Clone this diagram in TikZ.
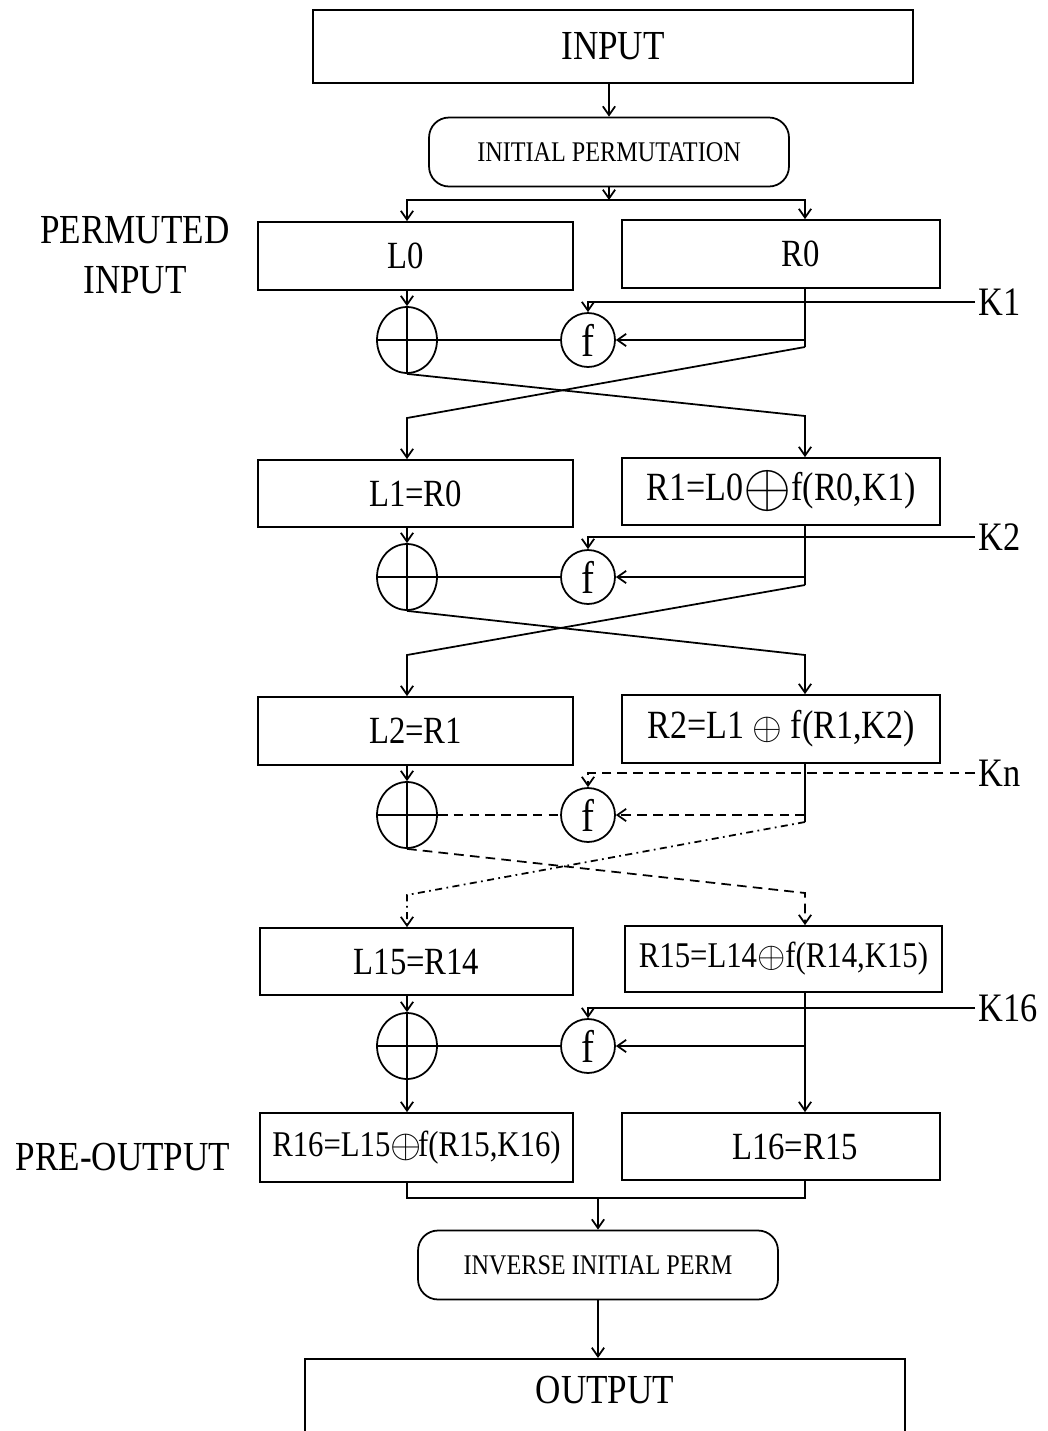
\documentclass[tikz,border=0pt]{standalone}
\usepackage{fontspec}
\setmainfont{Liberation Serif}[FakeStretch=0.85]
\usetikzlibrary{arrows.meta,shapes.geometric}

\newcommand{\xo}[1]{$\vcenter{\hbox{\scalebox{#1}{$\oplus$}}}$}

\tikzset{
  wire/.style={line width=1pt},
  arr/.style={wire, -{Straight Barb[length=5pt,width=7pt]}},
  kdash/.style={dash pattern=on 5.5pt off 3.5pt},
  kdot/.style={dash pattern=on 4pt off 2.5pt on 1pt off 2.5pt},
  boxtxt/.style={font=\fontsize{21.9}{25}\selectfont},
  smalltxt/.style={font=\fontsize{20.6}{24}\selectfont},
  bigtxt/.style={font=\fontsize{23.5}{28.2}\selectfont},
  blk/.style={draw, rectangle, line width=1pt, minimum width=6.3cm, minimum height=1.36cm, inner sep=0pt, boxtxt},
  perm/.style={draw, rectangle, rounded corners=0.4cm, line width=1pt, minimum width=7.2cm, minimum height=1.38cm, inner sep=0pt, font=\fontsize{16.2}{19}\selectfont},
  xorgate/.style={draw, ellipse, line width=1pt, minimum width=1.2cm, minimum height=1.32cm, inner sep=0pt,
    path picture={\draw[line width=1pt] (path picture bounding box.north) -- (path picture bounding box.south)
      (path picture bounding box.west) -- (path picture bounding box.east);}},
  fbox/.style={draw, circle, line width=1pt, minimum size=1.08cm, inner sep=0pt, font=\fontsize{26}{30}\selectfont},
  side/.style={bigtxt, align=center},
  key/.style={font=\fontsize{23}{27}\selectfont, anchor=west, inner xsep=2pt},
}

\begin{document}
\begin{tikzpicture}[x=0.02cm, y=-0.02cm]
  \useasboundingbox (0,0) rectangle (1048,1431);
  \clip (0,0) rectangle (1048,1431);

  % top
  \node[blk, bigtxt, minimum width=12cm, minimum height=1.46cm] (inp) at (613,46.5) {INPUT};
  \node[perm] (ip) at (609,152) {INITIAL PERMUTATION};
  \coordinate (sp) at (609,200);
  \node[side] (pin) at (135,255) {PERMUTED\\INPUT};
  \node[blk, label={[boxtxt, xshift=-0.2cm]center:L0}] (l0) at (415.5,256) {};
  \node[blk, minimum width=6.36cm, label={[boxtxt, xshift=0.4cm]center:R0}] (r0) at (781,254) {};

  % round 1
  \node[xorgate] (x1) at (407,340) {};
  \node[fbox] (f1) at (588,340) {f};
  \node[key] (k1) at (975,302) {K1};
  \coordinate (r1a) at (805,347);
  \coordinate (l1a) at (407,418);
  \coordinate (r1b) at (805,416);
  \node[blk, minimum height=1.34cm] (l1) at (415.5,493.5) {L1=R0};
  \node[blk, minimum width=6.36cm, minimum height=1.34cm, font=\fontsize{22.8}{26}\selectfont] (r1) at (781,491.5) {R1=L0\xo{1.7}f(R0,K1)};

  % round 2
  \node[xorgate] (x2) at (407,577) {};
  \node[fbox] (f2) at (588,577) {f};
  \node[key] (k2) at (975,537) {K2};
  \coordinate (r2a) at (805,585);
  \coordinate (l2a) at (407,655);
  \coordinate (r2b) at (805,655);
  \node[blk] (l2) at (415.5,731) {L2=R1};
  \node[blk, minimum width=6.36cm, font=\fontsize{22.8}{26}\selectfont] (r2) at (781,729) {R2=L1 \xo{1.05} f(R1,K2)};

  % round n
  \node[xorgate] (x3) at (407,815) {};
  \node[fbox] (f3) at (588,815) {f};
  \node[key] (kn) at (975,773) {Kn};
  \coordinate (r3a) at (805,822);
  \coordinate (l3a) at (407,895);
  \coordinate (r3b) at (805,893);
  \node[blk, minimum width=6.26cm, minimum height=1.34cm] (l15) at (416.5,961.5) {L15=R14};
  \node[blk, minimum width=6.34cm, minimum height=1.32cm, smalltxt] (r15) at (783.5,959) {R15=L14\xo{1.0}f(R14,K15)};

  % round 16
  \node[xorgate] (x4) at (407,1046) {};
  \node[fbox] (f4) at (588,1046) {f};
  \node[key] (k16) at (975,1008) {K16};
  \coordinate (r4a) at (805,1046);
  \node[side] (pout) at (123,1157) {PRE-OUTPUT};
  \node[blk, minimum width=6.26cm, minimum height=1.38cm, smalltxt] (r16) at (416.5,1147.5) {R16=L15\xo{1.1}\kern-0.1em f(R15,K16)};
  \node[blk, minimum width=6.36cm, minimum height=1.34cm, label={[boxtxt, xshift=0.28cm]center:L16=R15}] (l16) at (781,1146.5) {};

  % bottom
  \coordinate (mg) at (598,1198);
  \node[perm] (inv) at (598,1265) {INVERSE INITIAL PERM};
  \node[blk, minimum width=12cm, minimum height=2.6cm, anchor=north,
    label={[bigtxt, anchor=north, inner sep=0pt, yshift=-0.36cm]north:OUTPUT}] (out) at (605,1358) {};

  % wires top
  \draw[arr] (inp.south -| ip) -- (ip.north);
  \draw[arr] (ip.south) -- (sp);
  \draw[arr] (sp) -| (l0.north -| x1);
  \draw[arr] (sp) -| (r0.north -| r1a);

  % wires round 1
  \draw[arr] (l0.south -| x1) -- (x1.north);
  \draw[arr] (k1.west) -| (f1.north);
  \draw[wire] (r0.south -| r1a) -- (r1a);
  \draw[arr] (r1a |- f1) -- (f1.east);
  \draw[wire] (x1.east) -- (f1.west);
  \draw[arr] (r1a) -- (l1a) -- (l1.north -| l1a);
  \draw[arr] (x1.south) -- (r1b) -- (r1.north -| r1b);

  % wires round 2
  \draw[arr] (l1.south -| x2) -- (x2.north);
  \draw[arr] (k2.west) -| (f2.north);
  \draw[wire] (r1.south -| r2a) -- (r2a);
  \draw[arr] (r2a |- f2) -- (f2.east);
  \draw[wire] (x2.east) -- (f2.west);
  \draw[arr] (r2a) -- (l2a) -- (l2.north -| l2a);
  \draw[arr] (x2.south) -- (r2b) -- (r2.north -| r2b);

  % wires round n (dashed)
  \draw[arr] (l2.south -| x3) -- (x3.north);
  \draw[arr, kdash] (kn.west) -| (f3.north);
  \draw[wire] (r2.south -| r3a) -- (r3a);
  \draw[arr, kdash] (r3a |- f3) -- (f3.east);
  \draw[wire, kdash] (x3.east) -- (f3.west);
  \draw[arr, kdot] (r3a) -- (l3a) -- (l15.north -| l3a);
  \draw[arr, kdash] (x3.south) -- (r3b) -- (r15.north -| r3b);

  % wires round 16
  \draw[arr] (l15.south -| x4) -- (x4.north);
  \draw[arr] (k16.west) -| (f4.north);
  \draw[arr] (r15.south -| r4a) -- (l16.north -| r4a);
  \draw[arr] (r4a) -- (f4.east);
  \draw[wire] (x4.east) -- (f4.west);
  \draw[arr] (x4.south) -- (r16.north -| x4);

  % wires bottom
  \draw[wire] (r16.south -| x4) -- (x4 |- mg) -- (r4a |- mg) -- (l16.south -| r4a);
  \draw[arr] (mg) -- (inv.north);
  \draw[arr] (inv.south) -- (out.north -| inv);
\end{tikzpicture}
\end{document}
